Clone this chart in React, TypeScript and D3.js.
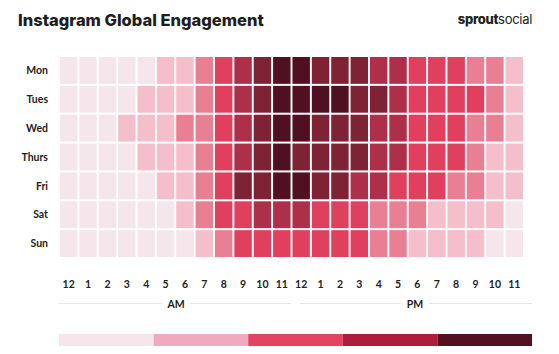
import React from "react";
import * as d3 from "d3";

const days = ["Mon", "Tues", "Wed", "Thurs", "Fri", "Sat", "Sun"];
const hourLabels = ["12", "1", "2", "3", "4", "5", "6", "7", "8", "9", "10", "11", "12", "1", "2", "3", "4", "5", "6", "7", "8", "9", "10", "11"];

// engagement level per hour (0 = lowest, 6 = highest)
const mon = [0, 0, 0, 0, 0, 1, 1, 2, 3, 4, 5, 6, 6, 5, 5, 5, 4, 4, 3, 3, 3, 2, 2, 1];
const tue = [0, 0, 0, 0, 1, 1, 1, 2, 3, 4, 5, 6, 6, 6, 6, 5, 5, 4, 3, 3, 3, 3, 2, 1];
const wed = [0, 0, 0, 1, 1, 1, 2, 2, 3, 4, 5, 6, 6, 5, 5, 5, 4, 4, 3, 3, 3, 2, 2, 1];
const thu = [0, 0, 0, 0, 1, 1, 1, 2, 3, 4, 5, 6, 5, 5, 5, 5, 4, 4, 3, 3, 3, 2, 1, 1];
const fri = [0, 0, 0, 0, 0, 1, 1, 2, 3, 5, 5, 6, 6, 5, 5, 4, 4, 3, 3, 3, 2, 2, 1, 1];
const sat = [0, 0, 0, 0, 0, 0, 1, 2, 3, 3, 4, 4, 4, 3, 3, 3, 2, 2, 2, 1, 1, 1, 1, 0];
const sun = [0, 0, 0, 0, 0, 0, 0, 1, 2, 3, 3, 3, 3, 3, 3, 3, 2, 2, 1, 1, 1, 1, 0, 0];
const rows = [mon, tue, wed, thu, fri, sat, sun];

const levelColors = ["#f5e6ec", "#f4bfcb", "#e97f93", "#e0405e", "#ae2f4a", "#7e2336", "#4f1121"];
const legendColors = ["#f6e5eb", "#f0aac0", "#e34462", "#ac1e3c", "#521020"];

const font = "Lato, 'Open Sans', sans-serif";
const titleFont = "Inter, Lato, sans-serif";

export default function App() {
  const width = 559;
  const height = 354;

  const x = d3.scaleBand<number>().domain(d3.range(24)).range([60, 523]).paddingInner(0.1);
  const y = d3.scaleBand<string>().domain(days).range([57, 257]).paddingInner(0.07);
  const color = d3.scaleOrdinal<number, string>().domain(d3.range(7)).range(levelColors);
  const legendX = d3.scaleBand<number>().domain(d3.range(5)).range([59, 532]);

  const am = [59, 291];
  const pm = [300, 532];
  const amMid = (am[0] + am[1]) / 2 + 1;
  const pmMid = (pm[0] + pm[1]) / 2 - 1;

  return (
    <svg width={width} height={height} style={{ position: "absolute", left: 0, top: 0, background: "#fff" }}>
      <text x={18} y={26} fontFamily={titleFont} fontWeight={800} fontSize={16.5} fill="#1d1d1d">
        Instagram Global Engagement
      </text>
      <text x={532} y={24} textAnchor="end" fontFamily={titleFont} fontSize={13} fill="#222" letterSpacing={-0.3}>
        <tspan fontWeight={800}>sprout</tspan>
        <tspan fontWeight={400}>social</tspan>
      </text>

      {rows.map((vals, r) =>
        vals.map((v, c) => (
          <rect
            key={`${r}-${c}`}
            x={x(c)}
            y={y(days[r])}
            width={x.bandwidth()}
            height={y.bandwidth()}
            fill={color(v)}
          />
        ))
      )}

      {days.map((d) => (
        <text
          key={d}
          x={48}
          y={y(d)! + y.bandwidth() / 2}
          dy="0.35em"
          textAnchor="end"
          fontFamily={font}
          fontWeight={700}
          fontSize={10.5}
          fill="#222"
        >
          {d}
        </text>
      ))}

      {hourLabels.map((h, i) => (
        <text
          key={i}
          x={x(i)! + x.bandwidth() / 2}
          y={284}
          dy="0.35em"
          textAnchor="middle"
          fontFamily={font}
          fontWeight={700}
          fontSize={10.5}
          fill="#222"
        >
          {h}
        </text>
      ))}

      <line x1={am[0]} x2={amMid - 14} y1={303.5} y2={303.5} stroke="#e6e6e6" />
      <line x1={amMid + 14} x2={am[1]} y1={303.5} y2={303.5} stroke="#e6e6e6" />
      <text x={amMid} y={304} dy="0.35em" textAnchor="middle" fontFamily={font} fontWeight={700} fontSize={10.5} fill="#222">
        AM
      </text>
      <line x1={pm[0]} x2={pmMid - 14} y1={303.5} y2={303.5} stroke="#e6e6e6" />
      <line x1={pmMid + 14} x2={pm[1]} y1={303.5} y2={303.5} stroke="#e6e6e6" />
      <text x={pmMid} y={304} dy="0.35em" textAnchor="middle" fontFamily={font} fontWeight={700} fontSize={10.5} fill="#222">
        PM
      </text>

      {legendColors.map((c, i) => (
        <rect key={c} x={legendX(i)} y={334} width={legendX.bandwidth()} height={12} fill={c} />
      ))}
    </svg>
  );
}
